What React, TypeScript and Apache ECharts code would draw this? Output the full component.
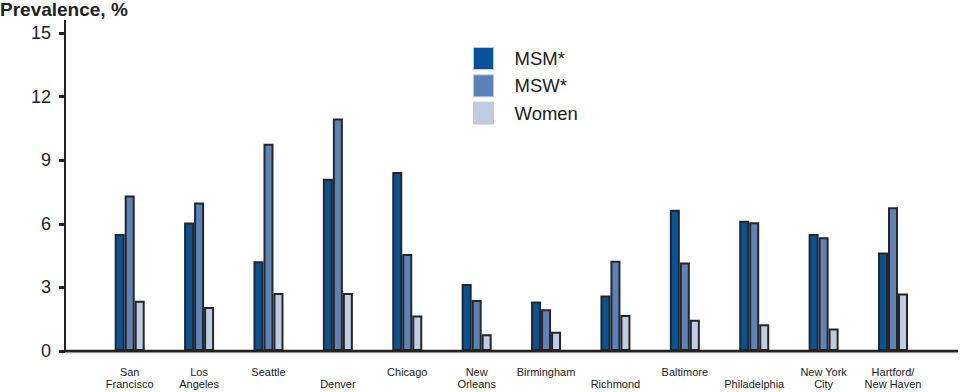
import React, { useEffect, useRef } from "react";
import * as echarts from "echarts";

const categories = [
  "San Francisco", "Los Angeles", "Seattle", "Denver", "Chicago", "New Orleans",
  "Birmingham", "Richmond", "Baltimore", "Philadelphia", "New York City", "Hartford/New Haven",
];
const tickLabels = [
  "San\nFrancisco", "Los\nAngeles", "Seattle", "\nDenver", "Chicago", "New\nOrleans",
  "Birmingham", "\nRichmond", "Baltimore", "\nPhiladelphia", "New York\nCity", "Hartford/\nNew Haven",
];
const msm = [5.52, 6.06, 4.23, 8.13, 8.44, 3.16, 2.33, 2.62, 6.66, 6.14, 5.52, 4.65];
const msw = [7.33, 7.0, 9.78, 10.97, 4.58, 2.41, 1.97, 4.26, 4.18, 6.07, 5.36, 6.78];
const women = [2.37, 2.08, 2.73, 2.74, 1.67, 0.79, 0.91, 1.7, 1.47, 1.26, 1.06, 2.71];
const seriesNames = ["MSM*", "MSW*", "Women"];
const yTicks = [0, 3, 6, 9, 12, 15];

const FONT = "'Liberation Sans', Arial, sans-serif";
const colors = ["#06539a", "#5b83bb", "#bfcce4"];

export default function App() {
  const ref = useRef<HTMLDivElement>(null);
  useEffect(() => {
    if (!ref.current) return;
    const chart = echarts.init(ref.current, null, { renderer: "svg" });
    const values = [msm, msw, women];
    chart.setOption({
      animation: false,
      textStyle: { fontFamily: FONT },
      title: {
        text: "Prevalence, %",
        left: 0,
        top: 0,
        padding: 0,
        textStyle: { fontSize: 19, fontWeight: "bold", color: "#222", fontFamily: FONT },
      },
      legend: {
        orient: "vertical",
        left: 473,
        top: 47,
        padding: 0,
        itemWidth: 20,
        itemHeight: 22,
        itemGap: 4.3,
        icon: "rect",
        selectedMode: false,
        textStyle: { fontSize: 18.5, color: "#222", fontFamily: FONT, padding: [0, 0, 0, 16] },
        data: seriesNames.map((n, i) => ({
          name: n,
          itemStyle: { color: colors[i], borderColor: "#c8c8c8", borderWidth: 1 },
        })),
      },
      grid: { left: 95, right: 32.3, top: 33, bottom: 41 },
      xAxis: {
        type: "category",
        data: categories,
        axisLine: { show: false },
        axisTick: { show: false },
        axisLabel: {
          interval: 0,
          fontSize: 11,
          lineHeight: 12,
          color: "#222",
          margin: 15,
          formatter: (_v: string, i: number) => tickLabels[i],
        },
      },
      yAxis: {
        type: "value",
        min: yTicks[0],
        max: yTicks[yTicks.length - 1],
        interval: 3,
        offset: 30,
        splitLine: { show: false },
        axisLine: { show: false },
        axisTick: { show: true, length: 6, lineStyle: { color: "#222", width: 3 } },
        axisLabel: { fontSize: 18, color: "#222", margin: 14, fontFamily: FONT },
      },
      graphic: [
        {
          type: "line",
          shape: { x1: 65, y1: 20, x2: 65, y2: 351 },
          style: { stroke: "#222", lineWidth: 2 },
          z: 10,
        },
        {
          type: "line",
          shape: { x1: 65, y1: 352.5, x2: 958, y2: 352.5 },
          style: { stroke: "#bbb", lineWidth: 1.5 },
          z: 9,
        },
        {
          type: "line",
          shape: { x1: 64, y1: 351, x2: 958, y2: 351 },
          style: { stroke: "#222", lineWidth: 2.5 },
          z: 10,
        },
      ],
      series: seriesNames.map((n, i) => ({
        name: n,
        type: "bar",
        data: values[i],
        barWidth: 10,
        barGap: "0%",
        itemStyle: { color: colors[i], borderColor: "#262626", borderWidth: 2 },
      })),
    });
    return () => chart.dispose();
  }, []);
  return (
    <div
      ref={ref}
      style={{ position: "fixed", left: 0, top: 0, width: 960, height: 392, background: "#fff" }}
    />
  );
}
